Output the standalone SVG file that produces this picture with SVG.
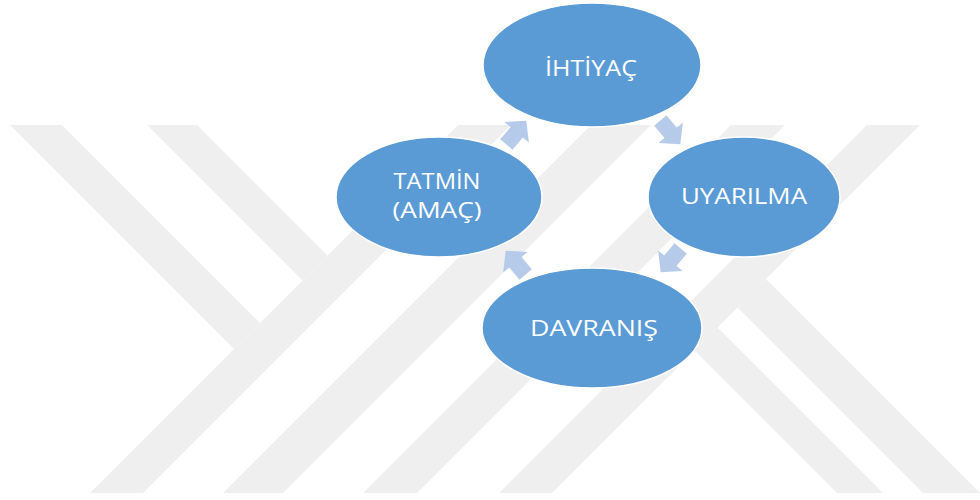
<svg xmlns="http://www.w3.org/2000/svg" width="980" height="500" viewBox="0 0 980 500">
<defs>
<style>
.wm{fill:#EFEFEF}
.node ellipse{fill:#5B9BD5;stroke:#FFFFFF;stroke-width:1.5}
.node text{fill:#FFFFFF;font-family:"Open Sans","Liberation Sans",sans-serif;font-size:22px;text-anchor:middle}
.arr{fill:#B5CBE9}
</style>
<polygon id="blk" points="-15,-8 1,-8 1,-16 16,0 1,16 1,8 -15,8"/>
</defs>
<rect width="980" height="500" fill="#FFFFFF"/>
<g id="watermark">
<polygon class="wm" points="458,125 511,125 143,493 90,493"/>
<polygon class="wm" points="10,125 62,125 260,323 234,349"/>
<polygon class="wm" points="147,125 197,125 327.5,255.5 302.5,280.5"/>
<polygon class="wm" points="591,125 651,125 283,493 223,493"/>
<polygon class="wm" points="731,125 785,125 417,493 363,493"/>
<polygon class="wm" points="867,125 920,125 552,493 499,493"/>
<polygon class="wm" points="737.5,307.5 766,279 980,493 923,493"/>
<polygon class="wm" points="694.5,350.5 717.5,327.5 883,493 837,493"/>
</g>
<g id="connectors">
<use href="#blk" class="arr" transform="translate(516,133) rotate(-50)"/>
<use href="#blk" class="arr" transform="translate(670,132) rotate(50)"/>
<use href="#blk" class="arr" transform="translate(671,260) rotate(130)"/>
<use href="#blk" class="arr" transform="translate(516,263) rotate(-130)"/>
</g>
<g id="ihtiyac" class="node">
<ellipse cx="592" cy="65" rx="109" ry="62"/>
<text x="591" y="76" textLength="92" lengthAdjust="spacingAndGlyphs">İHTİYAÇ</text>
</g>
<g id="uyarilma" class="node">
<ellipse cx="744" cy="197" rx="96" ry="60"/>
<text x="744" y="204" textLength="126" lengthAdjust="spacingAndGlyphs">UYARILMA</text>
</g>
<g id="davranis" class="node">
<ellipse cx="592" cy="328" rx="110" ry="60"/>
<text x="594" y="336" textLength="128" lengthAdjust="spacingAndGlyphs">DAVRANIŞ</text>
</g>
<g id="tatmin" class="node">
<ellipse cx="439" cy="197" rx="103" ry="60"/>
<text x="437" y="189" textLength="87" lengthAdjust="spacingAndGlyphs">TATMİN</text>
<text x="437" y="218" textLength="89" lengthAdjust="spacingAndGlyphs">(AMAÇ)</text>
</g>
</svg>
